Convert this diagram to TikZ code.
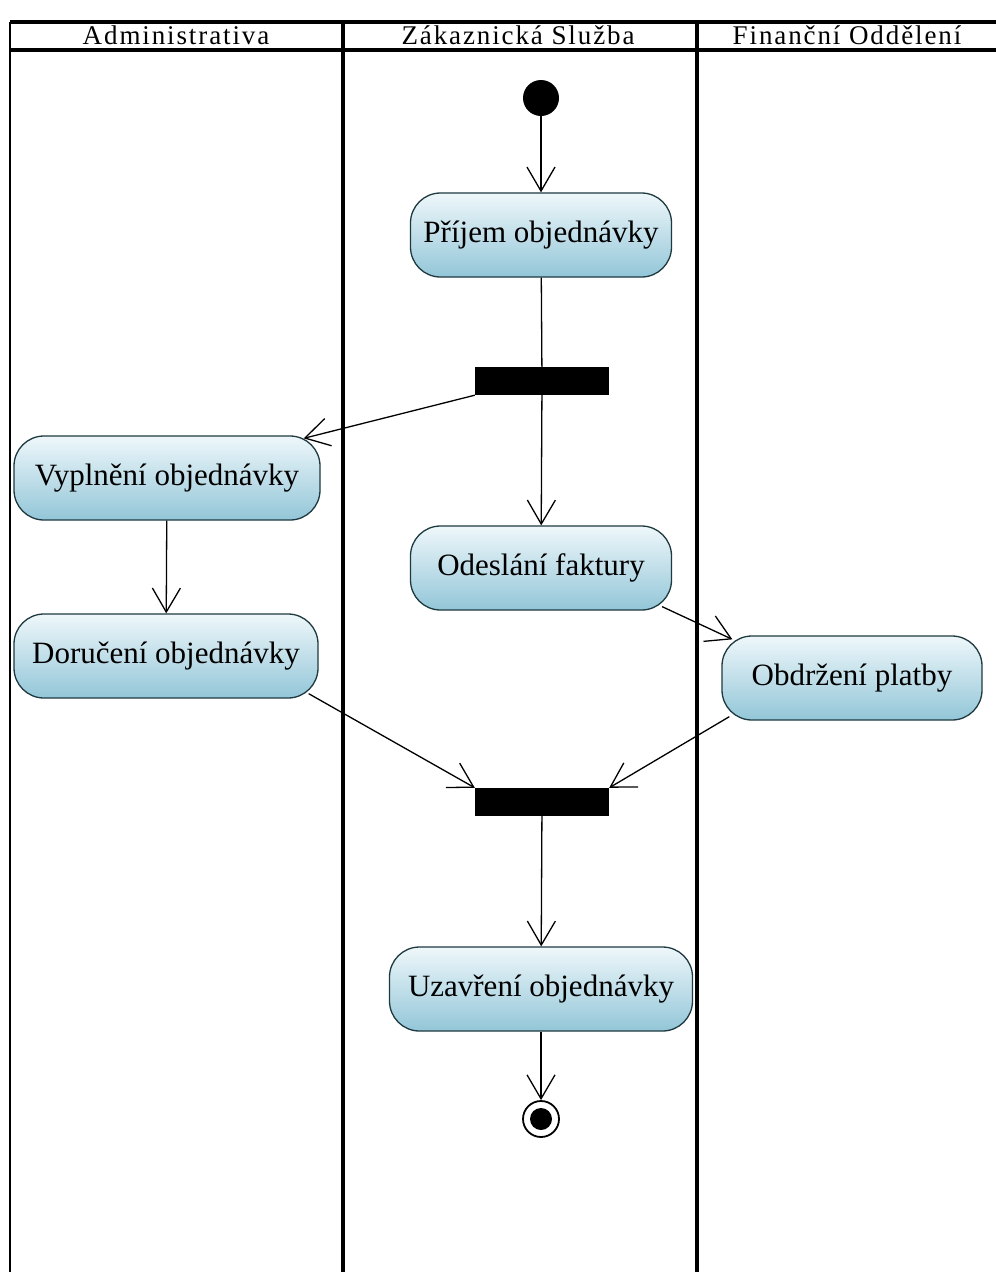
\documentclass[tikz,border=0pt]{standalone}
\usepackage{fontspec}
\setmainfont{Liberation Serif}
\usetikzlibrary{arrows.meta}
\definecolor{boxtop}{HTML}{EEF7FA}
\definecolor{boxbot}{HTML}{93C6D8}
\definecolor{boxline}{HTML}{1E3A40}
\newfontfamily\headfont[LetterSpace=7]{Liberation Serif}
\tikzset{
  action/.style={draw=boxline, line width=1.3pt, rounded corners=30pt,
    top color=boxtop, bottom color=boxbot, minimum height=84pt,
    font=\fontsize{31}{33}\selectfont, inner sep=0pt},
  bar/.style={fill=black, minimum width=134pt, minimum height=28pt, inner sep=0pt},
  flow/.style={line width=1.3pt, -{Straight Barb[length=24pt,width=28pt,line width=1.3pt]}},
  plain/.style={line width=1.3pt},
  lane/.style={line width=3.5pt},
  lanehead/.style={font=\headfont\fontsize{27}{29}\selectfont}
}
\begin{document}
\begin{tikzpicture}[x=1pt,y=-1pt]
  \useasboundingbox (0,0) rectangle (996,1272);
  \fill[white] (0,0) rectangle (996,1272);

  % swimlane frame
  \draw[lane] (10,22) -- (996,22);
  \draw[lane] (10,50) -- (996,50);
  \draw[line width=2.5pt] (10,22) -- (10,1272);
  \draw[lane] (343,22) -- (343,1272);
  \draw[lane] (697,22) -- (697,1272);
  \node[lanehead] (h1) at (176,35) {Administrativa};
  \node[lanehead] (h2) at (518,35) {Zákaznická Služba};
  \node[lanehead] (h3) at (847,35) {Finanční Oddělení};

  % start and end
  \node[circle, fill=black, minimum size=36pt, inner sep=0pt] (start) at (541,98) {};
  \node[circle, draw=black, line width=1.8pt, minimum size=36pt, inner sep=0pt] (end) at (541,1119) {};
  \fill[black] (end.center) circle (11pt);

  % actions
  \node[action, minimum width=261pt] (prijem) at (541,235) {Příjem objednávky};
  \node[bar] (fork) at (542,381) {};
  \node[action, minimum width=306pt] (vypl) at (167,478) {Vyplnění objednávky};
  \node[action, minimum width=261pt] (odesl) at (541,568) {Odeslání faktury};
  \node[action, minimum width=304pt] (doruc) at (166,656) {Doručení objednávky};
  \node[action, minimum width=260pt] (obdrz) at (852,678) {Obdržení platby};
  \node[bar] (join) at (542,802) {};
  \node[action, minimum width=303pt] (uzav) at (541,989) {Uzavření objednávky};

  % control flow
  \draw[flow] (start) -- (prijem);
  \draw[plain] (prijem) -- (fork);
  \draw[flow] (fork.south west) -- ([xshift=-17pt,yshift=-3pt]vypl.north east);
  \draw[flow] (fork) -- (odesl);
  \draw[flow] (vypl) -- (doruc);
  \draw[flow] ([xshift=-10pt,yshift=4pt]odesl.south east) -- ([xshift=11pt,yshift=-4pt]obdrz.north west);
  \draw[flow] ([xshift=-10pt,yshift=5pt]doruc.south east) -- (join.north west);
  \draw[flow] ([xshift=8pt,yshift=4pt]obdrz.south west) -- (join.north east);
  \draw[flow] (join) -- (uzav);
  \draw[flow] (uzav) -- (end);
\end{tikzpicture}
\end{document}
